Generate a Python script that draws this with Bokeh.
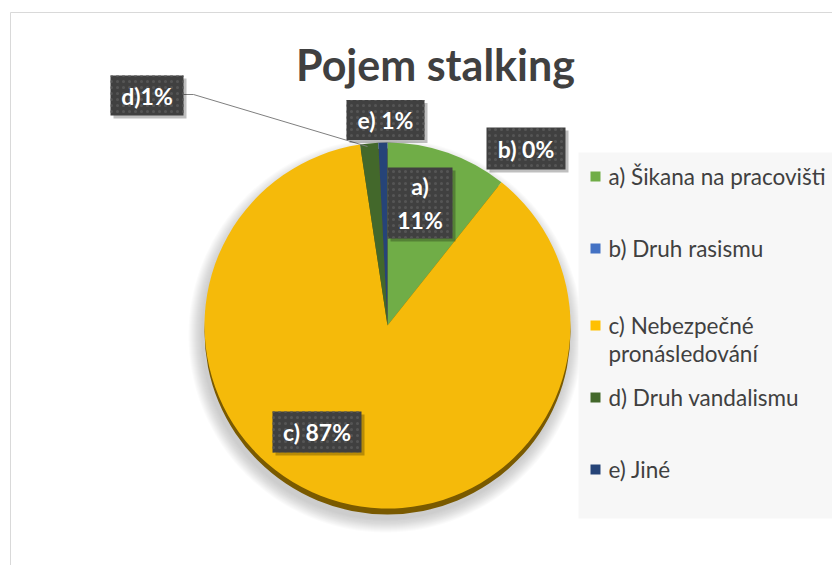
import math
from bokeh.plotting import figure
from bokeh.models import Range1d
from bokeh.core.properties import value
from bokeh.embed import file_html
from bokeh.resources import INLINE

# ---- data ----
title = "Pojem stalking"
categories = ["a) Šikana na pracovišti", "b) Druh rasismu", "c) Nebezpečné\npronásledování",
              "d) Druh vandalismu", "e) Jiné"]
shares = [10.7, 0.0, 86.9, 1.6, 0.8]
data_labels = ["a)\n11%", "b) 0%", "c) 87%", "d)1%", "e) 1%"]
colors = ["#70AD47", "#4472C4", "#F5BA0A", "#43682B", "#264478"]
legend_colors = ["#70AD47", "#4472C4", "#FFC000", "#43682B", "#264478"]

# ---- layout (screen px; data y = -screen y) ----
W, H = 832, 565
p = figure(width=W, height=H, x_range=Range1d(0, 832), y_range=Range1d(-565, 0),
           output_backend="svg", toolbar_location=None, min_border=0)
p.axis.visible = False
p.grid.visible = False
p.outline_line_color = None
p.background_fill_color = "white"
p.border_fill_color = "white"

FONT = "Lato"

# chart border
p.quad(left=10, right=860, top=-12, bottom=-600, fill_color="white", line_color="#D9D9D9", line_width=1)

# title
p.text(x=[435], y=[-64], text=[title], text_font=value(FONT), text_font_style="bold",
       text_font_size="43px", text_color="#404040", text_align="center", text_baseline="middle")

cx, cy, r = 387, -325, 183

# soft shadow
for i in range(14):
    p.circle(x=cx - 2, y=cy - 10, radius=r + 14 - i, fill_color="#808080", fill_alpha=0.03, line_color=None)
# 3D rim
p.circle(x=cx, y=cy - 6, radius=r, fill_color="#7A5A00", line_color=None)

# wedges
total = sum(shares)
starts, ends, wcols = [], [], []
c = 0.0
for s, col in zip(shares, colors):
    a0 = math.pi / 2 - 2 * math.pi * c / total
    c += s
    a1 = math.pi / 2 - 2 * math.pi * c / total
    if s > 0:
        starts.append(a0); ends.append(a1); wcols.append(col)
p.wedge(x=cx, y=cy, radius=r, start_angle=starts, end_angle=ends, direction="clock",
        fill_color=wcols, line_color=None)

# leader line for d)
p.line(x=[183, 193, 367], y=[-94, -94, -146], line_color="#7F7F7F", line_width=1)

# data label boxes
lx = [419.5, 525.5, 316.5, 146.5, 385]
ly = [-202.5, -148, -431.5, -95, -119.5]
lw = [65, 79, 89, 73, 78]
lh = [71, 42, 41, 40, 40]
p.rect(x=[v + 3 for v in lx], y=[v - 3 for v in ly], width=lw, height=lh,
       fill_color="black", fill_alpha=0.25, line_color=None)
p.rect(x=lx, y=ly, width=lw, height=lh, fill_color="#404040", line_color=None,
       hatch_pattern="dot", hatch_color="#555555", hatch_scale=6, hatch_weight=1)
p.text(x=lx, y=ly, text=data_labels, text_font=value(FONT), text_font_style="bold",
       text_font_size="23px", text_color="white", text_align="center", text_baseline="middle",
       text_line_height=1.2)

# legend
p.quad(left=578, right=860, top=-152, bottom=-518, fill_color="#F7F7F7", line_color=None)
leg_y = [-176, -248, -325, -397, -469]
p.rect(x=[595] * 5, y=leg_y, width=10, height=10, fill_color=legend_colors, line_color=None)
tx, ty = [], []
for cat, yy in zip(categories, leg_y):
    for k, line in enumerate(cat.split("\n")):
        tx.append(line); ty.append(yy - 28 * k)
p.text(x=[608] * len(tx), y=ty, text=tx, text_font=value(FONT), text_font_size="22.5px",
       text_color="#404040", text_align="left", text_baseline="middle")

open("out.html", "w").write(file_html(p, INLINE))
